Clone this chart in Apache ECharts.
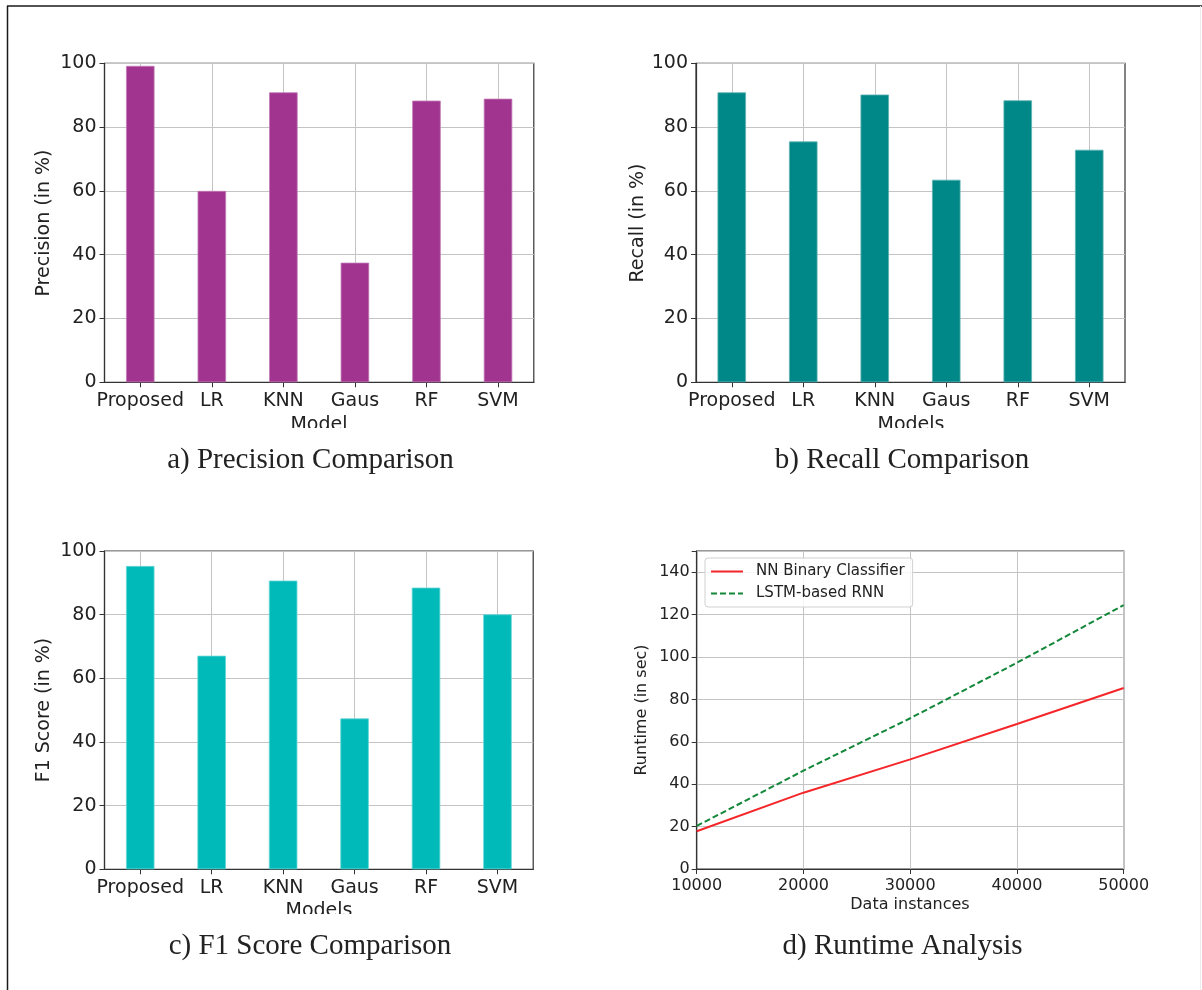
<!DOCTYPE html>
<html>
<head>
<meta charset="utf-8">
<title>Model comparison and runtime</title>
<script src="https://cdn.jsdelivr.net/npm/echarts@6/dist/echarts.min.js"></script>
<style>
  html, body { margin: 0; padding: 0; background: #ffffff; }
  #chart { width: 1202px; height: 990px; }
</style>
</head>
<body>
<div id="chart"></div>
<script>
// Models compared in the three bar panels
const models = ['Proposed', 'LR', 'KNN', 'Gaus', 'RF', 'SVM'];

// Scores in percent
const precision = [99.2, 60.0, 90.9, 37.5, 88.3, 88.9];
const recall = [90.9, 75.5, 90.2, 63.5, 88.4, 72.9];
const f1Score = [95.3, 67.1, 90.7, 47.4, 88.5, 80.1];

// Runtime analysis (seconds) by number of data instances
const instances = [10000, 20000, 30000, 40000, 50000];
const nnRuntime = [17.8, 36.0, 51.7, 68.4, 85.4];
const lstmRuntime = [20.3, 46.4, 71.1, 97.3, 124.5];

const SANS = 'DejaVu Sans';
const INK = '#222222';
const FRAME = '#333333';
const GRIDLINE = '#c4c4c4';

const chart = echarts.init(document.getElementById('chart'), null, { renderer: 'canvas' });

const grids = [
  { left: 104.5, top: 63.3, width: 429.3, height: 319 },
  { left: 696, top: 63.3, width: 429, height: 319 },
  { left: 104.5, top: 551, width: 428.7, height: 318.3 },
  { left: 696.7, top: 551, width: 427, height: 318 }
].map(g => Object.assign({ show: true, borderColor: FRAME, borderWidth: 1.2, backgroundColor: 'transparent', containLabel: false }, g));

function categoryAxis(gridIndex) {
  return {
    gridIndex, type: 'category', data: models, boundaryGap: true,
    axisLine: { show: true, lineStyle: { color: FRAME, width: 1.2 } },
    axisTick: { show: true, alignWithLabel: true, length: 5, lineStyle: { color: FRAME, width: 1 } },
    axisLabel: { interval: 0, fontFamily: SANS, fontSize: 19, color: INK, margin: 9 },
    splitLine: { show: true, alignWithLabel: true, lineStyle: { color: GRIDLINE, width: 1 } }
  };
}

function percentAxis(gridIndex) {
  return {
    gridIndex, type: 'value', min: 0, max: 100, interval: 20,
    axisLine: { show: true, lineStyle: { color: FRAME, width: 1.2 } },
    axisTick: { show: true, length: 5, lineStyle: { color: FRAME, width: 1 } },
    axisLabel: { fontFamily: SANS, fontSize: 19, color: INK, margin: 8 },
    splitLine: { show: true, lineStyle: { color: GRIDLINE, width: 1 } }
  };
}

function barSeries(idx, values, color, edge) {
  return {
    type: 'bar', xAxisIndex: idx, yAxisIndex: idx, data: values,
    barWidth: 28.5, z: 3,
    itemStyle: { color: color, borderColor: edge, borderWidth: 0.8 },
    silent: true
  };
}

function txt(x, y, text, font, rot) {
  return {
    type: 'text', x: x, y: y, rotation: rot || 0, z: 10,
    style: { text: text, font: font, fill: INK, align: 'center', verticalAlign: 'middle' }
  };
}

function whiteBox(x, y, w, h) {
  return { type: 'rect', shape: { x: x, y: y, width: w, height: h }, style: { fill: '#ffffff' }, z: 20, silent: true };
}

const option = {
  animation: false,
  backgroundColor: '#ffffff',
  grid: grids,
  xAxis: [
    categoryAxis(0), categoryAxis(1), categoryAxis(2),
    {
      gridIndex: 3, type: 'value', min: 10000, max: 50000, interval: 10000,
      axisLine: { show: true, lineStyle: { color: FRAME, width: 1.2 } },
      axisTick: { show: true, length: 5, lineStyle: { color: FRAME, width: 1 } },
      axisLabel: { fontFamily: SANS, fontSize: 16, color: INK, margin: 9, formatter: v => String(v) },
      splitLine: { show: true, lineStyle: { color: GRIDLINE, width: 1 } }
    }
  ],
  yAxis: [
    percentAxis(0), percentAxis(1), percentAxis(2),
    {
      gridIndex: 3, type: 'value', min: 0, max: 150, interval: 20,
      axisLine: { show: true, lineStyle: { color: FRAME, width: 1.2 } },
      axisTick: { show: true, length: 5, lineStyle: { color: FRAME, width: 1 } },
      axisLabel: { fontFamily: SANS, fontSize: 16, color: INK, margin: 7,
        formatter: v => (v > 140 ? '' : String(v)) },
      splitLine: { show: true, lineStyle: { color: GRIDLINE, width: 1 } }
    }
  ],
  legend: {
    orient: 'vertical', left: 705, top: 558,
    data: ['NN Binary Classifier', 'LSTM-based RNN'],
    itemWidth: 32, itemHeight: 14, itemGap: 7,
    padding: [6, 8, 6, 5],
    backgroundColor: 'rgba(255,255,255,0.85)',
    borderColor: '#d0d0d0', borderWidth: 1, borderRadius: 3,
    selectedMode: false,
    itemStyle: { opacity: 0 },
    textStyle: { fontFamily: SANS, fontSize: 15, color: INK, padding: [0, 0, 0, 8] }
  },
  series: [
    barSeries(0, precision, '#a0348e', '#c27ab6'),
    barSeries(1, recall, '#008888', '#5fb3b3'),
    barSeries(2, f1Score, '#00baba', '#66d6d6'),
    {
      name: 'NN Binary Classifier', type: 'line', xAxisIndex: 3, yAxisIndex: 3,
      data: instances.map((x, i) => [x, nnRuntime[i]]),
      symbol: 'none', silent: true, z: 4,
      lineStyle: { color: '#f5262a', width: 2, type: 'solid' },
      itemStyle: { color: '#f5262a' }
    },
    {
      name: 'LSTM-based RNN', type: 'line', xAxisIndex: 3, yAxisIndex: 3,
      data: instances.map((x, i) => [x, lstmRuntime[i]]),
      symbol: 'none', silent: true, z: 4,
      lineStyle: { color: '#12873a', width: 2, type: [6, 3] },
      itemStyle: { color: '#12873a' }
    }
  ],
  graphic: [
    // page frame
    { type: 'line', shape: { x1: 7, y1: 6, x2: 1202, y2: 6 }, style: { stroke: '#1a1a1a', lineWidth: 1.5 }, z: 30 },
    { type: 'line', shape: { x1: 7.5, y1: 6, x2: 7.5, y2: 990 }, style: { stroke: '#1a1a1a', lineWidth: 1.5 }, z: 30 },
    { type: 'line', shape: { x1: 1200.5, y1: 6, x2: 1200.5, y2: 990 }, style: { stroke: '#ececec', lineWidth: 1 }, z: 30 },

    // axis titles
    txt(44, 223, 'Precision (in %)', '19px "DejaVu Sans"', Math.PI / 2),
    txt(637.6, 223, 'Recall (in %)', '19px "DejaVu Sans"', Math.PI / 2),
    txt(44, 710, 'F1 Score (in %)', '19px "DejaVu Sans"', Math.PI / 2),
    txt(642, 710, 'Runtime (in sec)', '16px "DejaVu Sans"', Math.PI / 2),
    txt(319, 425, 'Model', '19px "DejaVu Sans"'),
    txt(911, 425, 'Models', '19px "DejaVu Sans"'),
    txt(319, 911, 'Models', '19px "DejaVu Sans"'),
    txt(910, 905, 'Data instances', '16px "DejaVu Sans"'),
    // bottom edge of the sub-figures cuts the x titles
    whiteBox(270, 428, 100, 14),
    whiteBox(860, 428, 100, 14),
    whiteBox(270, 914, 100, 14),

    // sub-figure captions
    txt(310.5, 460, 'a) Precision Comparison', '29px "Liberation Serif"'),
    txt(902, 460, 'b) Recall Comparison', '29px "Liberation Serif"'),
    txt(310, 946.5, 'c) F1 Score Comparison', '29px "Liberation Serif"'),
    txt(902.5, 946.5, 'd) Runtime Analysis', '29px "Liberation Serif"')
  ]
};

chart.setOption(option);
</script>
</body>
</html>
